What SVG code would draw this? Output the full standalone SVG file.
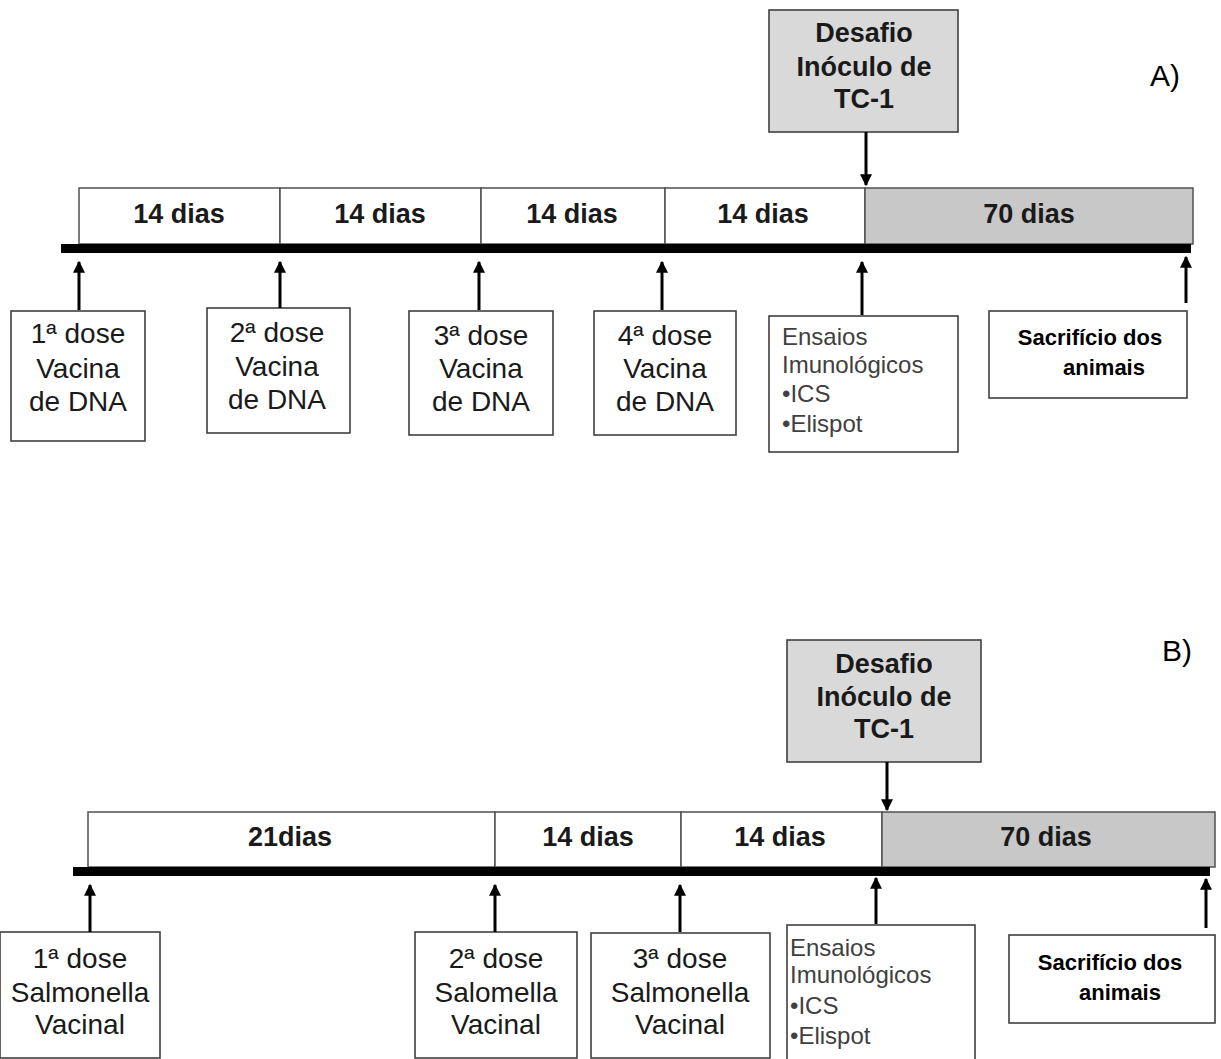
<svg xmlns="http://www.w3.org/2000/svg" width="1221" height="1059" viewBox="0 0 1221 1059">
<style>
.bx{fill:#fff;stroke:#404040;stroke-width:1.6}
.gb{fill:#d9d9d9;stroke:#404040;stroke-width:1.6}
.seg{fill:#fff;stroke:#505050;stroke-width:1.5}
.sg{fill:#c8c8c8;stroke:#505050;stroke-width:1.5}
.bar{fill:#000}
.dias{font-family:"Liberation Sans",Arial,sans-serif;font-weight:bold;font-size:27px;fill:#1a1a1a;text-anchor:middle}
.des{font-family:"Liberation Sans",Arial,sans-serif;font-weight:bold;font-size:27px;fill:#1a1a1a;text-anchor:middle}
.dose{font-family:"Liberation Sans",Arial,sans-serif;font-size:28px;fill:#1a1a1a;text-anchor:middle}
.ens{font-family:"Liberation Sans",Arial,sans-serif;font-size:24px;fill:#404040}
.sac{font-family:"Liberation Sans",Arial,sans-serif;font-weight:bold;font-size:22px;fill:#000;text-anchor:middle}
.lab{font-family:"Liberation Sans",Arial,sans-serif;font-size:30px;fill:#000}
.arr{stroke:#000;stroke-width:3;fill:none;marker-end:url(#ah)}
</style>
<defs>
<marker id="ah" viewBox="0 0 10 10" refX="9" refY="5" markerWidth="4" markerHeight="4" orient="auto" markerUnits="strokeWidth">
<path d="M0,0 L10,5 L0,10 z" fill="#000"/>
</marker>
</defs>

<!-- Panel A -->
<g id="labelA"><text class="lab" x="1150" y="86">A)</text></g>
<g id="timelineA">
<rect class="seg" x="79" y="188" width="201" height="56"/>
<rect class="seg" x="280" y="188" width="201" height="56"/>
<rect class="seg" x="481" y="188" width="184" height="56"/>
<rect class="seg" x="665" y="188" width="200" height="56"/>
<rect class="sg" x="865" y="188" width="328" height="56"/>
<text class="dias" x="179" y="223">14 dias</text>
<text class="dias" x="380" y="223">14 dias</text>
<text class="dias" x="572" y="223">14 dias</text>
<text class="dias" x="763" y="223">14 dias</text>
<text class="dias" x="1029" y="223">70 dias</text>
<rect class="bar" x="61" y="244" width="1130" height="9"/>
</g>
<g id="desafioA">
<rect class="gb" x="769" y="10" width="189" height="122"/>
<text class="des" x="864" y="42">Desafio</text>
<text class="des" x="864" y="76">Inóculo de</text>
<text class="des" x="864" y="108">TC-1</text>
</g>
<g id="doseA1">
<rect class="bx" x="11" y="311" width="134" height="130"/>
<text class="dose" x="78" y="343">1ª dose</text>
<text class="dose" x="78" y="378">Vacina</text>
<text class="dose" x="78" y="411">de DNA</text>
</g>
<g id="doseA2">
<rect class="bx" x="207" y="308" width="143" height="125"/>
<text class="dose" x="277" y="342">2ª dose</text>
<text class="dose" x="277" y="376">Vacina</text>
<text class="dose" x="277" y="409">de DNA</text>
</g>
<g id="doseA3">
<rect class="bx" x="409" y="311" width="144" height="124"/>
<text class="dose" x="481" y="345">3ª dose</text>
<text class="dose" x="481" y="378">Vacina</text>
<text class="dose" x="481" y="411">de DNA</text>
</g>
<g id="doseA4">
<rect class="bx" x="594" y="311" width="142" height="124"/>
<text class="dose" x="665" y="345">4ª dose</text>
<text class="dose" x="665" y="378">Vacina</text>
<text class="dose" x="665" y="411">de DNA</text>
</g>
<g id="ensaiosA">
<rect class="bx" x="769" y="316" width="189" height="136"/>
<text class="ens" x="782" y="345">Ensaios</text>
<text class="ens" x="782" y="373">Imunológicos</text>
<text class="ens" x="782" y="402">•ICS</text>
<text class="ens" x="782" y="432">•Elispot</text>
</g>
<g id="sacA">
<rect class="bx" x="989" y="311" width="198" height="87"/>
<text class="sac" x="1090" y="345">Sacrifício dos</text>
<text class="sac" x="1104" y="375">animais</text>
</g>

<!-- Panel B -->
<g id="labelB"><text class="lab" x="1162" y="661">B)</text></g>
<g id="timelineB">
<rect class="seg" x="88" y="812" width="407" height="55"/>
<rect class="seg" x="495" y="812" width="186" height="55"/>
<rect class="seg" x="681" y="812" width="201" height="55"/>
<rect class="sg" x="882" y="812" width="333" height="55"/>
<text class="dias" x="290" y="846">21dias</text>
<text class="dias" x="588" y="846">14 dias</text>
<text class="dias" x="780" y="846">14 dias</text>
<text class="dias" x="1046" y="846">70 dias</text>
<rect class="bar" x="73" y="867" width="1137" height="9"/>
</g>
<g id="desafioB">
<rect class="gb" x="787" y="640" width="194" height="122"/>
<text class="des" x="884" y="673">Desafio</text>
<text class="des" x="884" y="706">Inóculo de</text>
<text class="des" x="884" y="738">TC-1</text>
</g>
<g id="doseB1">
<rect class="bx" x="0" y="932" width="160" height="126"/>
<text class="dose" x="80" y="968">1ª dose</text>
<text class="dose" x="80" y="1002">Salmonella</text>
<text class="dose" x="80" y="1034">Vacinal</text>
</g>
<g id="doseB2">
<rect class="bx" x="415" y="932" width="162" height="126"/>
<text class="dose" x="496" y="968">2ª dose</text>
<text class="dose" x="496" y="1002">Salomella</text>
<text class="dose" x="496" y="1034">Vacinal</text>
</g>
<g id="doseB3">
<rect class="bx" x="591" y="933" width="179" height="125"/>
<text class="dose" x="680" y="968">3ª dose</text>
<text class="dose" x="680" y="1002">Salmonella</text>
<text class="dose" x="680" y="1034">Vacinal</text>
</g>
<g id="ensaiosB">
<rect class="bx" x="787" y="925" width="188" height="140"/>
<text class="ens" x="790" y="956">Ensaios</text>
<text class="ens" x="790" y="983">Imunológicos</text>
<text class="ens" x="790" y="1014">•ICS</text>
<text class="ens" x="790" y="1044">•Elispot</text>
</g>
<g id="sacB">
<rect class="bx" x="1009" y="935" width="206" height="88"/>
<text class="sac" x="1110" y="970">Sacrifício dos</text>
<text class="sac" x="1120" y="1000">animais</text>
</g>

<g id="connectors">
<line class="arr" x1="866" y1="132" x2="866" y2="185"/>
<line class="arr" x1="79" y1="310" x2="79" y2="262"/>
<line class="arr" x1="280" y1="308" x2="280" y2="262"/>
<line class="arr" x1="479" y1="310" x2="479" y2="262"/>
<line class="arr" x1="662" y1="310" x2="662" y2="262"/>
<line class="arr" x1="862" y1="315" x2="862" y2="262"/>
<line class="arr" x1="1186" y1="303" x2="1186" y2="257"/>
<line class="arr" x1="887" y1="762" x2="887" y2="810"/>
<line class="arr" x1="90" y1="932" x2="90" y2="885"/>
<line class="arr" x1="495" y1="932" x2="495" y2="885"/>
<line class="arr" x1="680" y1="932" x2="680" y2="885"/>
<line class="arr" x1="876" y1="924" x2="876" y2="878"/>
<line class="arr" x1="1206" y1="928" x2="1206" y2="879"/>
</g>
</svg>
